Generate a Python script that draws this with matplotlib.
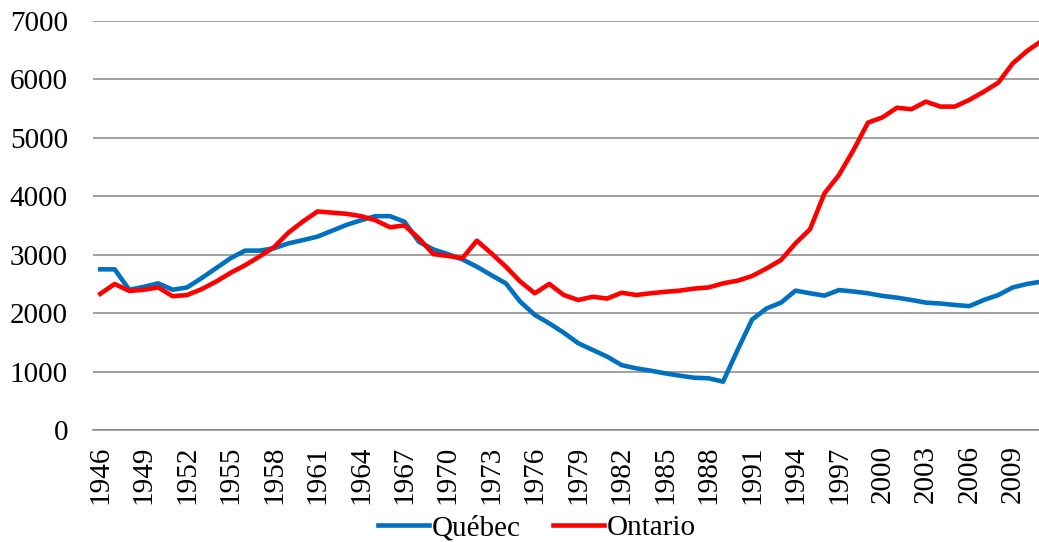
import matplotlib
matplotlib.use("Agg")
import matplotlib.pyplot as plt

years = list(range(1946, 2012))
quebec = [2750, 2750, 2400, 2450, 2510, 2400, 2440, 2600, 2770, 2940,
          3070, 3070, 3110, 3195, 3250, 3310, 3410, 3510, 3590, 3660,
          3660, 3565, 3220, 3090, 3010, 2920, 2795, 2650, 2510, 2195,
          1970, 1825, 1665, 1485, 1370, 1255, 1110, 1055, 1015, 970,
          930, 895, 885, 827, 1370, 1890, 2080, 2180, 2385, 2340,
          2300, 2395, 2370, 2340, 2295, 2265, 2225, 2180, 2165, 2140,
          2120, 2225, 2310, 2440, 2500, 2540]
ontario = [2330, 2500, 2380, 2400, 2440, 2290, 2310, 2410, 2540, 2690,
           2820, 2970, 3130, 3380, 3570, 3740, 3720, 3700, 3660, 3590,
           3470, 3500, 3280, 3010, 2980, 2940, 3240, 3025, 2795, 2540,
           2340, 2500, 2310, 2225, 2280, 2250, 2350, 2310, 2340, 2365,
           2385, 2420, 2440, 2510, 2555, 2635, 2765, 2910, 3195, 3435,
           4050, 4365, 4790, 5260, 5350, 5515, 5490, 5620, 5535, 5535,
           5650, 5790, 5945, 6275, 6490, 6660]
series_names = ["Québec", "Ontario"]
yticks = [0, 1000, 2000, 3000, 4000, 5000, 6000, 7000]

plt.rcParams['font.family'] = ['Liberation Serif', 'DejaVu Serif']

W, H = 1039, 542
fig = plt.figure(figsize=(W / 100, H / 100), dpi=100)
ax = fig.add_axes([93 / W, 1 - 430 / H, (1049 - 93) / W, (430 - 21) / H])

x = list(range(len(years)))
ax.plot(x, quebec, color="#0070C0", lw=3.3, label=series_names[0], solid_joinstyle="round")
ax.plot(x, ontario, color="#FF0000", lw=3.3, label=series_names[1], solid_joinstyle="round")

ax.set_xlim(-0.5, len(years) - 0.5)
ax.set_ylim(0, 7000)
ax.set_yticks(yticks)
ax.set_yticklabels([str(v) for v in yticks], fontsize=21)
ticks = x[::3]
ax.set_xticks(ticks)
ax.set_xticklabels([str(years[i]) for i in ticks], rotation=90, fontsize=21)
ax.tick_params(axis="both", length=0)
ax.tick_params(axis="y", pad=18)
ax.tick_params(axis="x", pad=11)
ax.grid(axis="y", color="#868686", lw=1.1)
ax.set_axisbelow(True)
for s in ["top", "right", "left"]:
    ax.spines[s].set_visible(False)
ax.spines["bottom"].set_color("#868686")
ax.spines["bottom"].set_linewidth(1.1)

fig.legend(loc="center", bbox_to_anchor=(537 / W, 1 - 528 / H), ncol=2, frameon=False,
           fontsize=21, handlelength=1.75, handletextpad=0.1, columnspacing=1.1,
           borderpad=0)

fig.savefig("out.png", dpi=100)
